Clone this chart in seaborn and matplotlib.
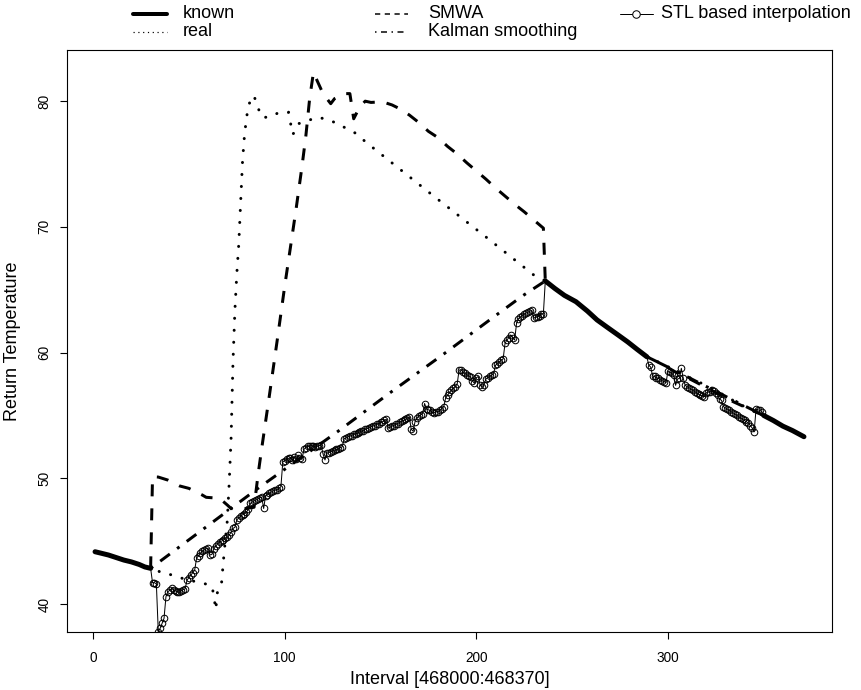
import matplotlib
matplotlib.use("Agg")
import matplotlib.pyplot as plt
import seaborn as sns
from matplotlib.lines import Line2D

# ---------------- data ----------------
known_x1 = [1, 4, 8, 12, 16, 20, 24, 27, 30]
known_y1 = [44.16, 44.05, 43.9, 43.7, 43.5, 43.35, 43.15, 42.95, 42.84]
known_x2 = [236, 241, 246, 252, 258, 263, 268, 274, 279, 284, 289]
known_y2 = [65.7, 65.1, 64.55, 64.05, 63.3, 62.6, 62.05, 61.4, 60.85, 60.25, 59.67]
known_x3 = [350, 355, 360, 365, 371]
known_y3 = [55.0, 54.6, 54.15, 53.8, 53.31]

real_x1 = [30, 31, 35, 40, 45, 50, 56, 60, 62, 63, 64, 65, 66, 67, 68, 69, 70, 71, 72,
           73, 74, 75, 76, 77, 78, 79, 80, 81, 82, 83, 84, 85, 86, 88, 92, 97, 102, 103,
           104, 105, 107, 112, 117, 122, 128, 132, 137, 141, 146, 177, 205, 230, 236]
real_y1 = [42.84, 43.05, 42.52, 42.36, 42.11, 41.9, 41.7, 41.55, 41.44, 40.65, 39.55,
           41.15, 41.4, 41.62, 43.45, 45.1, 46.6, 49.6, 53.2, 59.3, 63.4, 66.3, 68.6,
           72.0, 75.3, 77.3, 78.6, 79.6, 80.0, 80.3, 80.45, 79.9, 79.5, 78.72, 78.72,
           79.1, 79.12, 78.3, 77.35, 77.5, 78.2, 78.45, 78.72, 78.56, 78.19, 77.84,
           77.45, 76.92, 76.3, 72.54, 69.2, 66.17, 65.7]
real_x2 = [289, 295, 301, 307, 313, 319, 325, 331, 337, 343, 350]
real_y2 = [59.67, 59.25, 58.8, 58.3, 57.9, 57.45, 57.0, 56.45, 55.95, 55.45, 55.0]

smwa_x1 = [30, 31, 34, 39, 45, 50, 57, 59, 66, 70, 72, 78, 84, 86, 88, 92, 96, 100,
           103, 106, 109, 111, 113, 115, 117, 120, 124, 126, 131, 134, 136, 139, 142,
           145, 151, 156, 160, 165, 170, 175, 180, 185, 190, 195, 200, 205, 210, 215,
           220, 225, 230, 235, 236]
smwa_y1 = [42.84, 50.13, 50.1, 49.86, 49.4, 49.2, 48.67, 48.49, 48.41, 47.88, 47.6,
           47.55, 47.7, 50.2, 52.4, 56.6, 60.9, 65.3, 68.4, 71.5, 74.8, 77.2, 80.2,
           82.3, 81.6, 80.6, 79.8, 80.2, 80.6, 80.6, 78.6, 79.5, 80.0, 79.9, 79.95,
           79.7, 79.4, 78.9, 78.3, 77.6, 77.1, 76.4, 75.8, 75.1, 74.45, 73.8, 73.1,
           72.45, 71.8, 71.2, 70.55, 69.9, 65.7]
smwa_x2 = [289, 294, 299, 304, 309, 314, 319, 324, 329, 334, 339, 344, 350]
smwa_y2 = [59.67, 59.3, 58.9, 58.45, 58.1, 57.7, 57.3, 56.9, 56.5, 56.1, 55.75, 55.4, 55.0]

kal_x1 = [30, 86, 128, 155, 183, 210, 224, 236]
kal_y1 = [42.84, 49.2, 53.76, 56.81, 59.89, 62.94, 64.5, 65.7]
kal_x2 = [289, 304, 331, 350]
kal_y2 = [59.67, 58.55, 56.45, 55.0]

# STL based interpolation, indices 31..235 and 290..349
stl_start1 = 31
stl_y1 = [41.7, 41.7, 41.6, 37.8, 38.07, 38.46, 38.86, 40.58, 40.98, 41.1,
          41.25, 41.1, 41.05, 40.98, 40.95, 41.05, 41.15, 41.2, 41.9, 42.1,
          42.3, 42.5, 42.7, 43.65, 43.85, 44.05, 44.2, 44.3, 44.4, 44.45,
          43.9, 43.95, 44.4, 44.6, 44.8, 44.96, 45.0, 45.1, 45.23, 45.3,
          45.49, 45.7, 46.02, 46.1, 46.7, 46.85, 47.0, 47.1, 47.2, 47.3,
          47.55, 48.0, 48.1, 48.2, 48.27, 48.35, 48.45, 48.5, 47.6, 48.6,
          48.7, 48.81, 48.9, 49.0, 49.05, 49.1, 49.2, 49.33, 51.32, 51.4,
          51.5, 51.59, 51.65, 51.45, 51.7, 51.55, 51.85, 51.6, 51.5, 52.3,
          52.45, 52.55, 52.55, 52.6, 52.55, 52.5, 52.55, 52.6, 52.65, 51.93,
          51.46, 52.0, 52.05, 52.1, 52.2, 52.25, 52.3, 52.35, 52.45, 52.5,
          53.15, 53.2, 53.3, 53.35, 53.4, 53.5, 53.55, 53.6, 53.7, 53.75,
          53.8, 53.9, 53.95, 54.0, 54.1, 54.15, 54.2, 54.3, 54.35, 54.45,
          54.5, 54.6, 54.7, 54.0, 54.05, 54.15, 54.2, 54.3, 54.35, 54.45,
          54.55, 54.6, 54.7, 54.8, 54.9, 53.9, 53.75, 54.5, 54.8, 54.95,
          55.05, 55.15, 55.95, 55.5, 55.45, 55.4, 55.25, 55.2, 55.3, 55.3,
          55.4, 55.55, 55.7, 56.4, 56.6, 56.85, 57.0, 57.15, 57.3, 57.5,
          58.6, 58.65, 58.45, 58.35, 58.25, 58.15, 58.05, 57.75, 57.55, 58.0,
          58.1, 57.4, 57.3, 57.45, 57.9, 58.0, 58.1, 58.2, 58.3, 59.0,
          59.1, 59.25, 59.4, 59.5, 60.75, 61.0, 61.2, 61.4, 61.15, 61.0,
          62.33, 62.7, 62.8, 62.95, 63.05, 63.15, 63.2, 63.3, 63.35, 62.75,
          62.8, 62.85, 62.95, 63.05, 63.1]
stl_start2 = 290
stl_y2 = [59.0, 58.85, 58.15, 58.1, 58.0, 57.95, 57.85, 57.75, 57.7, 57.6,
          58.5, 58.45, 58.35, 58.2, 57.4, 57.9, 57.95, 58.75, 57.95, 57.4,
          57.3, 57.2, 57.1, 57.0, 56.9, 56.8, 56.7, 56.6, 56.55, 56.5,
          56.8, 56.85, 56.9, 57.0, 56.95, 56.8, 56.6, 56.3, 56.2, 55.7,
          55.6, 55.5, 55.4, 55.3, 55.2, 55.1, 55.0, 54.9, 54.8, 54.7,
          54.6, 54.5, 54.4, 54.2, 54.0, 53.7, 55.5, 55.45, 55.4, 55.3]

x_ticks = [0, 100, 200, 300]
y_ticks = [40, 50, 60, 70, 80]
legend_labels = ["known", "real", "SMWA", "Kalman smoothing", "STL based interpolation"]
x_label = "Interval [468000:468370]"
y_label = "Return Temperature"

# ---------------- style ----------------
sns.set_style("white")
plt.rcParams['font.family'] = ['Liberation Sans', 'DejaVu Sans']

W, H = 862, 690
fig = plt.figure(figsize=(W / 100, H / 100), dpi=100)
L, R, T, B = 66.7, 832.3, 50.0, 631.7
ax = fig.add_axes([L / W, 1 - B / H, (R - L) / W, (B - T) / H])

PX = 0.72  # points per pixel at dpi 100
K = "black"


def line(x, y, lw_px, ls, z, cap="butt"):
    sns.lineplot(x=x, y=y, ax=ax, estimator=None, sort=False, color=K,
                 linewidth=lw_px * PX, linestyle=ls, dash_capstyle=cap,
                 solid_capstyle="round", solid_joinstyle="round",
                 zorder=z, legend=False)


# known (thick solid)
for kx, ky in [(known_x1, known_y1), (known_x2, known_y2), (known_x3, known_y3)]:
    line(kx, ky, 5.0, "-", 3)

# real (dotted)
for rx, ry in [(real_x1, real_y1), (real_x2, real_y2)]:
    line(rx, ry, 3, (0, (0.05, 3.95)), 2, cap="round")

# SMWA (dashed)
for sx, sy in [(smwa_x1, smwa_y1), (smwa_x2, smwa_y2)]:
    line(sx, sy, 3, (0, (4, 4)), 2)

# Kalman (dash-dot)
for kx, ky in [(kal_x1, kal_y1), (kal_x2, kal_y2)]:
    line(kx, ky, 3, (0, (1, 3, 4, 3)), 2)

# STL based interpolation (thin line + open circles)
stl_x1 = list(range(stl_start1, stl_start1 + len(stl_y1)))
stl_x2 = list(range(stl_start2, stl_start2 + len(stl_y2)))
line([known_x1[-1]] + stl_x1 + [known_x2[0]],
     [known_y1[-1]] + stl_y1 + [known_y2[0]], 1.0, "-", 4)
line([known_x2[-1]] + stl_x2 + [known_x3[0]],
     [known_y2[-1]] + stl_y2 + [known_y3[0]], 1.0, "-", 4)
for sx, sy in [(stl_x1, stl_y1), (stl_x2, stl_y2)]:
    sns.lineplot(x=sx, y=sy, ax=ax, estimator=None, sort=False, color=K,
                 linestyle="none", marker="o", markersize=6.6 * PX,
                 markerfacecolor="none", markeredgecolor=K,
                 markeredgewidth=1.0 * PX, zorder=5, legend=False)

# ---------------- axes ----------------
ax.set_xlim(-13.8, 385.8)
ax.set_ylim(37.8, 84.07)
ax.set_xticks(x_ticks)
ax.set_yticks(y_ticks)
ax.set_xticklabels([str(v) for v in x_ticks])
ax.set_yticklabels([str(v) for v in y_ticks], rotation=90, va="center")
ax.tick_params(axis="both", direction="out", length=5, width=0.8, colors=K,
               labelsize=9.8, bottom=True, left=True)
ax.tick_params(axis="x", pad=9)
ax.tick_params(axis="y", pad=6)
for sp in ax.spines.values():
    sp.set_visible(True)
    sp.set_color(K)
    sp.set_linewidth(0.8)
ax.grid(False)

ax.set_xlabel(x_label, fontsize=13, color=K)
ax.set_ylabel(y_label, fontsize=13, color=K)
ax.xaxis.set_label_coords(0.5, -(679 - B) / (B - T))
ax.xaxis.label.set_va("center")
ax.yaxis.set_label_coords((12 - L) / (R - L), 0.5)
ax.yaxis.label.set_va("center")

# ---------------- legend (R-style, outside top, 3 columns) ----------------
row_y = [14, 32]
cols = [(133, 167, 183), (375, 408, 428), (620, 653, 661)]
entries = [
    (0, 0, dict(lw=4 * PX, ls="-")),
    (0, 1, dict(lw=1.2 * PX, ls=(0, (1, 3)))),
    (1, 0, dict(lw=1.5 * PX, ls=(0, (3.5, 3.0)))),
    (1, 1, dict(lw=1.5 * PX, ls=(0, (1, 3, 4, 3)))),
    (2, 0, dict(lw=1.0 * PX, ls="-")),
]
for (c, r, st), lab in zip(entries, legend_labels):
    x0, x1, xt = cols[c]
    yy = 1 - row_y[r] / H
    fig.add_artist(Line2D([x0 / W, x1 / W], [yy, yy], color=K,
                          linewidth=st["lw"], linestyle=st["ls"],
                          transform=fig.transFigure))
    if c == 2:
        fig.add_artist(Line2D([(x0 + x1) / 2 / W], [yy], color=K, marker="o",
                              markersize=7.5 * PX, markerfacecolor="white",
                              markeredgewidth=1.0 * PX, linestyle="none",
                              transform=fig.transFigure))
    fig.text(xt / W, yy, lab, fontsize=13, color=K, va="center", ha="left")

fig.savefig("out.png", dpi=100, facecolor="white")
